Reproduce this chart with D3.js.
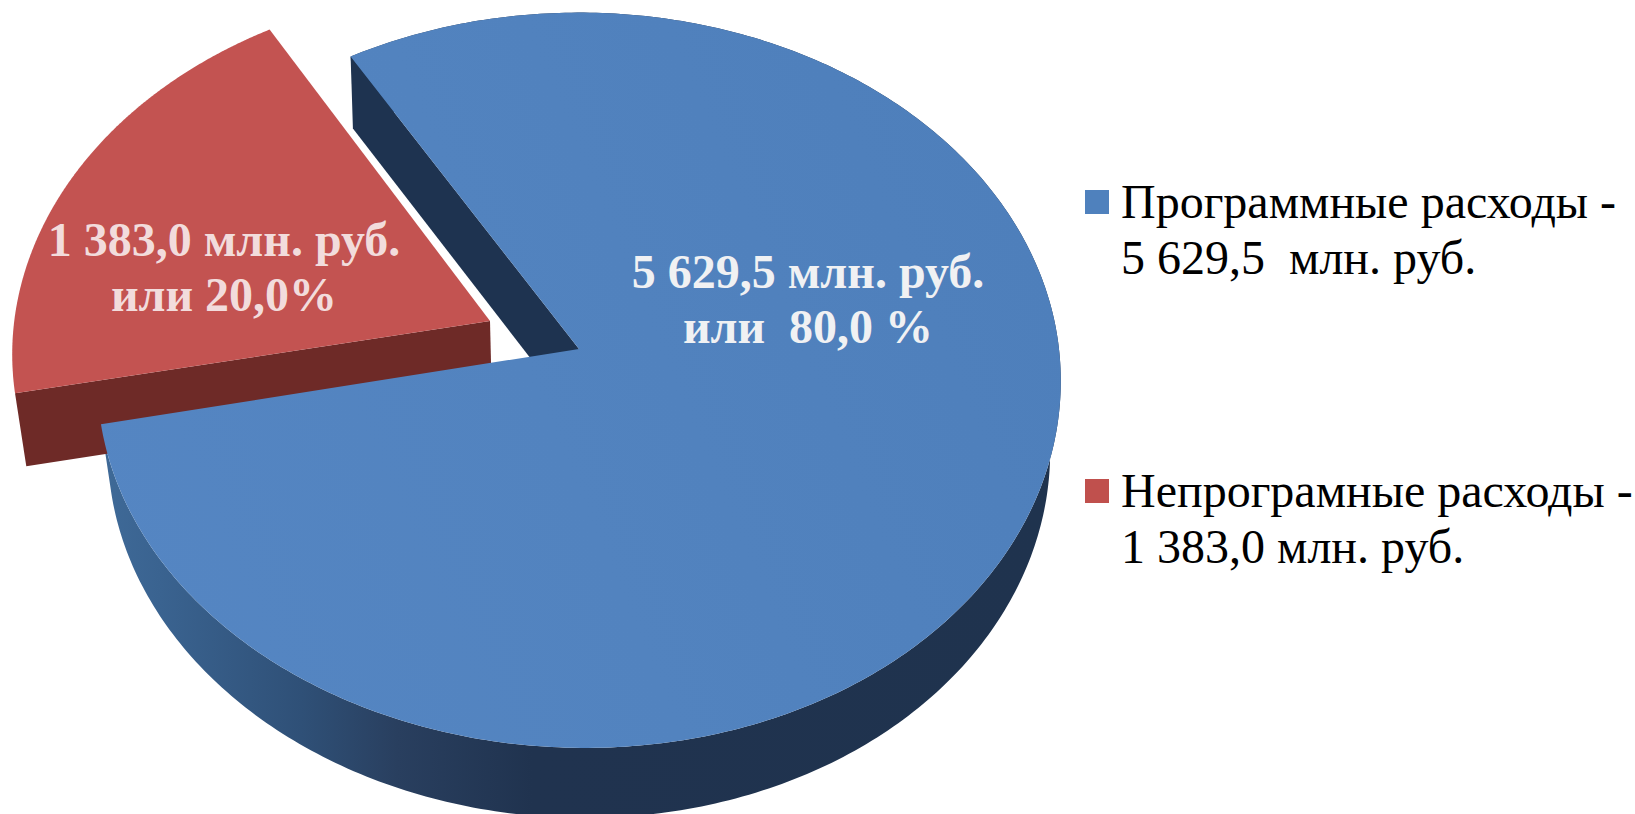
<!DOCTYPE html>
<html><head><meta charset="utf-8">
<script src="https://cdn.jsdelivr.net/npm/d3@7"></script>
<style>html,body{margin:0;padding:0;background:#fff}svg{display:block}text{white-space:pre;font-family:"Liberation Serif",serif}</style>
</head><body><svg id="c" width="1635" height="814" viewBox="0 0 1635 814"></svg>
<script>
const categories = ["Программные расходы", "Непрограмные расходы"];
const values = [5629.5, 1383.0];
const legendLines = [["Программные расходы -", "5 629,5  млн. руб."], ["Непрограмные расходы -", "1 383,0 млн. руб."]];
const labelLines = [["5 629,5 млн. руб.", "или  80,0 %"], ["1 383,0 млн. руб.", "или 20,0%"]];
const topColors = ["#4f81bd", "#c0504d"];

const svg = d3.select("#c");
const cx = 579, cy = 349, Rx = 480, Ry = 365, k = 0.085, lean = 6;
const explode = [-89, -28];
const redWarp = [0.9905, -0.0198, 0.005, 0.9926];
const start = 329.3 * Math.PI / 180;

const slices = d3.pie().sort(null).startAngle(start).endAngle(start + 2 * Math.PI)(values);

// a point of the pie's disc, seen in perspective (angle clockwise from the top)
function project(a, r) {
  const u = r * Math.sin(a), v = -r * Math.cos(a), w = 1 - k * v;
  return [cx + Rx * u / w + lean * Math.pow(Math.max(v, 0), 2), cy + Ry * v / w];
}
const apex = project(0, 0);
const lower = (p, depth, squeeze) => [cx + (p[0] - cx) * squeeze, p[1] + depth];
const arcPts = s => d3.range(0, 361).map(t => project(s.startAngle + (s.endAngle - s.startAngle) * t / 360, 1));
function toRed(p) {
  const dx = p[0] - apex[0], dy = p[1] - apex[1];
  return [apex[0] + explode[0] + redWarp[0] * dx + redWarp[1] * dy,
          apex[1] + explode[1] + redWarp[2] * dx + redWarp[3] * dy];
}
const line = d3.line();

const defs = svg.append("defs");
const rim = defs.append("linearGradient").attr("id", "rim").attr("gradientUnits", "userSpaceOnUse")
  .attr("x1", 100).attr("x2", 1060).attr("y1", 0).attr("y2", 0);
[[0, "#3f6a98"], [0.0625, "#3a6390"], [0.21, "#2f5077"], [0.31, "#293f5f"], [0.45, "#20334f"], [1, "#1f334e"]]
  .forEach(d => rim.append("stop").attr("offset", d[0]).attr("stop-color", d[1]));
const face = defs.append("linearGradient").attr("id", "face").attr("gradientUnits", "userSpaceOnUse")
  .attr("x1", 100).attr("x2", 1060).attr("y1", 700).attr("y2", 300);
[[0, "#5586c3"], [0.5, "#5283bf"], [1, "#4e7fbb"]]
  .forEach(d => face.append("stop").attr("offset", d[0]).attr("stop-color", d[1]));

const blue = slices[0], red = slices[1];
const bluePts = arcPts(blue), redPts = arcPts(red).map(toRed);
const redApex = toRed(apex);

// blue outer wall
svg.append("path").attr("d", line(bluePts.concat(bluePts.map(p => lower(p, 70, 0.978)).reverse())) + "Z").attr("fill", "url(#rim)");
// blue inner wall, facing the gap
const wall = [bluePts[0], apex, lower(apex, 72, 0.99), lower(bluePts[0], 72, 0.99)];
svg.append("path").attr("d", line(wall) + "Z").attr("fill", "#1e3350");
// red cut wall
const redStart = redPts[0];
const redWall = [redStart, redApex, lower(redApex, 73, 0.98), lower(redStart, 73, 0.98)];
svg.append("path").attr("d", line(redWall) + "Z").attr("fill", "#6e2a27");
// tops
svg.append("path").attr("d", line([redApex].concat(redPts)) + "Z").attr("fill", "#c35351");
svg.append("path").attr("d", line([apex].concat(bluePts)) + "Z").attr("fill", "url(#face)");

// data labels
const labelPos = [[808, 288], [224, 256]];
const labelFill = ["#f0f1f3", "#f2dcdc"];
labelLines.forEach((lines, i) => {
  svg.append("g").selectAll("text").data(lines).join("text")
    .attr("x", labelPos[i][0]).attr("y", (d, j) => labelPos[i][1] + j * 55)
    .attr("text-anchor", "middle").attr("font-weight", "bold").attr("font-size", 48)
    .attr("fill", labelFill[i]).text(d => d);
});

// legend
const legendY = [218, 507];
const legend = svg.append("g").selectAll("g").data(categories).join("g")
  .attr("transform", (d, i) => `translate(0,${legendY[i]})`);
legend.append("rect").attr("x", 1085).attr("y", -28).attr("width", 24).attr("height", 24)
  .attr("fill", (d, i) => topColors[i]);
legend.each(function (d, i) {
  d3.select(this).selectAll("text").data(legendLines[i]).join("text")
    .attr("x", 1121).attr("y", (t, j) => j * 56).attr("font-size", 48).attr("fill", "#000").text(t => t);
});
</script></body></html>
